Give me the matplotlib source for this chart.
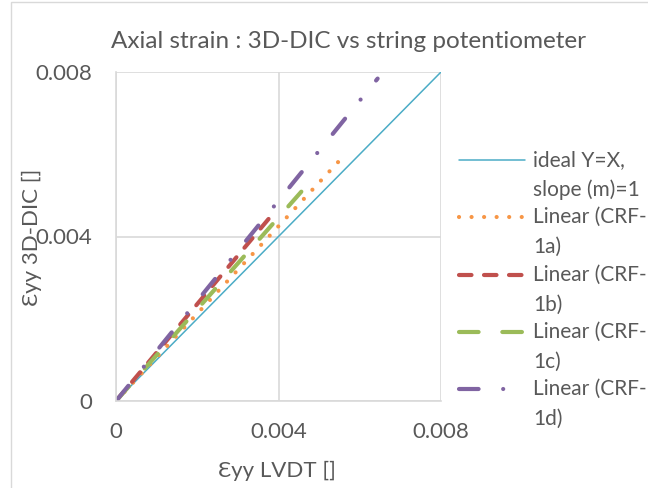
import matplotlib
matplotlib.use("Agg")
import matplotlib.pyplot as plt
from matplotlib.patches import Rectangle
from matplotlib.lines import Line2D

# Trendline end points (strain values)
series_labels = ["ideal Y=X,\nslope (m)=1", "Linear (CRF-\n1a)", "Linear (CRF-\n1b)",
                 "Linear (CRF-\n1c)", "Linear (CRF-\n1d)"]
x_start = [0.0, 0.0, 0.0, 0.0, 0.0]
x_end = [0.008, 0.0055, 0.00386, 0.00484, 0.00644]
y_start = [0.0, 0.0, 0.0, 0.0, 0.0]
y_end = [0.008, 0.005845, 0.00455, 0.0054, 0.00784]
ticks = [0, 0.004, 0.008]
tick_labels = ["0", "0.004", "0.008"]

colors = ["#4BACC6", "#F79646", "#C0504D", "#9BBB59", "#8064A2"]
styles = ["-", (0, (0.01, 3)), (0, (3, 3)), (0, (4.7, 5.7)), (0, (4.7, 5.9, 0.01, 5.9))]
widths = [1.1, 3, 3, 3, 3]

plt.rcParams["font.family"] = ["Lato", "DejaVu Sans"]
text_color = "#595959"
W, H = 648, 488

fig = plt.figure(figsize=(6.48, 4.88), dpi=100)
# light chart-area frame (right and bottom edges fall outside the image)
fig.patches.append(Rectangle((11 / W, -0.1), 1.2, (486 / H) + 0.1,
                             transform=fig.transFigure, fill=False,
                             edgecolor="#D9D9D9", linewidth=1))
ax = fig.add_axes([116 / W, 1 - 401 / H, 325 / W, 329 / H])

for i in range(len(series_labels)):
    ax.plot([x_start[i], x_end[i]], [y_start[i], y_end[i]], color=colors[i],
            linestyle=styles[i], linewidth=widths[i], solid_capstyle="round",
            dash_capstyle="round")

ax.set_xlim(0, 0.008)
ax.set_ylim(0, 0.008)
ax.set_xticks(ticks)
ax.set_yticks(ticks)
ax.set_xticklabels(tick_labels)
ax.set_yticklabels(tick_labels)
ax.tick_params(length=0, labelsize=16, colors=text_color)
ax.tick_params(axis="x", pad=15)
ax.tick_params(axis="y", pad=17)
ax.grid(True, color="#D9D9D9", linewidth=1.2)
ax.set_axisbelow(True)
for side in ["top", "right"]:
    ax.spines[side].set_visible(False)
for side in ["left", "bottom"]:
    ax.spines[side].set_color("#D9D9D9")
    ax.spines[side].set_linewidth(1.2)

# title and axis labels placed in pixel positions of the reference
fig.text(348 / W, 1 - 42 / H, "Axial strain : 3D-DIC vs string potentiometer",
         fontsize=17.5, color=text_color, ha="center", va="center")
fig.text(277 / W, 1 - 471 / H, "\u0190yy LVDT []", fontsize=16,
         color=text_color, ha="center", va="center")
fig.text(32 / W, 1 - 237 / H, "\u0190yy 3D-DIC []", fontsize=16,
         color=text_color, ha="center", va="center", rotation=90)

# legend drawn by hand: the handle sits on the first line of each wrapped label
for i, label in enumerate(series_labels):
    y_px = 160 + 57.3 * i
    fig.add_artist(Line2D([459 / W, 525 / W], [1 - y_px / H, 1 - y_px / H],
                          color=colors[i], linestyle=styles[i], linewidth=widths[i],
                          solid_capstyle="round", dash_capstyle="round"))
    for j, part in enumerate(label.split("\n")):
        fig.text(533 / W, 1 - (y_px + 30 * j) / H, part, fontsize=15,
                 color=text_color, ha="left", va="center")

fig.savefig("out.png", dpi=100)
